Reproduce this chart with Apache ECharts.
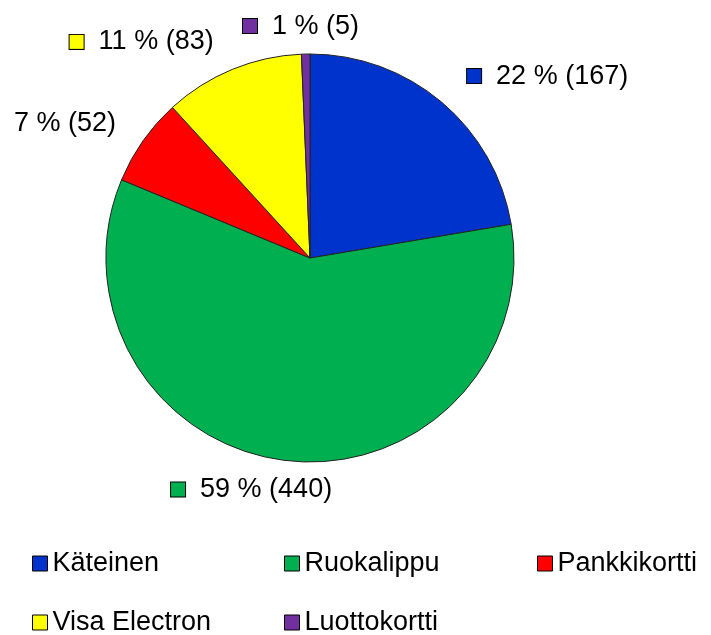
<!DOCTYPE html>
<html>
<head>
<meta charset="utf-8">
<script src="https://cdn.jsdelivr.net/npm/echarts@6/dist/echarts.min.js"></script>
<style>
html,body{margin:0;padding:0;background:#fff;}
#chart{width:711px;height:635px;}
</style>
</head>
<body>
<div id="chart"></div>
<script>
var categories = ['Käteinen', 'Ruokalippu', 'Pankkikortti', 'Visa Electron', 'Luottokortti'];
var values = [167, 440, 52, 83, 5];
var colors = ['#0033cc', '#00b050', '#ff0000', '#ffff00', '#7030a0'];
var labelDx = [4, 49, 0, -6, 54];
var labelDy = [-1, -4, 2, 3, 5];
var legendColumns = [['Käteinen', 'Visa Electron'], ['Ruokalippu', 'Luottokortti'], ['Pankkikortti']];
var legendLefts = [32, 284, 537];

var FONT = 'Liberation Sans, Arial, sans-serif';
var rich = {
  t: {fontSize: 27, fontFamily: FONT, color: '#000', padding: [0, 0, 0, 15], verticalAlign: 'middle', lineHeight: 30}
};
colors.forEach(function (c, i) {
  rich['s' + i] = {width: 14, height: 14, backgroundColor: c, borderColor: '#000', borderWidth: 1, verticalAlign: 'middle'};
});

var chart = echarts.init(document.getElementById('chart'), null, {renderer: 'canvas'});
var legends = legendColumns.map(function (col, k) {
  return {
    orient: 'vertical',
    left: legendLefts[k],
    top: 550,
    height: 120,
    padding: 0,
    itemGap: 32,
    itemWidth: 15,
    itemHeight: 15,
    icon: 'rect',
    selectedMode: false,
    data: col,
    itemStyle: {borderColor: '#000', borderWidth: 1},
    textStyle: {fontSize: 27, fontFamily: FONT, color: '#000', lineHeight: 27}
  };
});

chart.setOption({
  animation: false,
  color: colors,
  legend: legends,
  series: [{
    type: 'pie',
    center: [310, 258],
    radius: 204,
    startAngle: 90,
    clockwise: true,
    avoidLabelOverlap: false,
    percentPrecision: 0,
    itemStyle: {borderColor: '#222', borderWidth: 1},
    emphasis: {disabled: true},
    label: {
      show: true,
      position: 'outside',
      distanceToLabelLine: 0,
      formatter: function (p) {
        return '{s' + p.dataIndex + '|}{t|' + p.percent + ' % (' + p.value + ')}';
      },
      rich: rich
    },
    labelLine: {show: false, length: 33, length2: 0},
    labelLayout: function (params) {
      return {dx: labelDx[params.dataIndex], dy: labelDy[params.dataIndex]};
    },
    data: categories.map(function (name, i) {
      return {name: name, value: values[i]};
    })
  }]
});
</script>
</body>
</html>
